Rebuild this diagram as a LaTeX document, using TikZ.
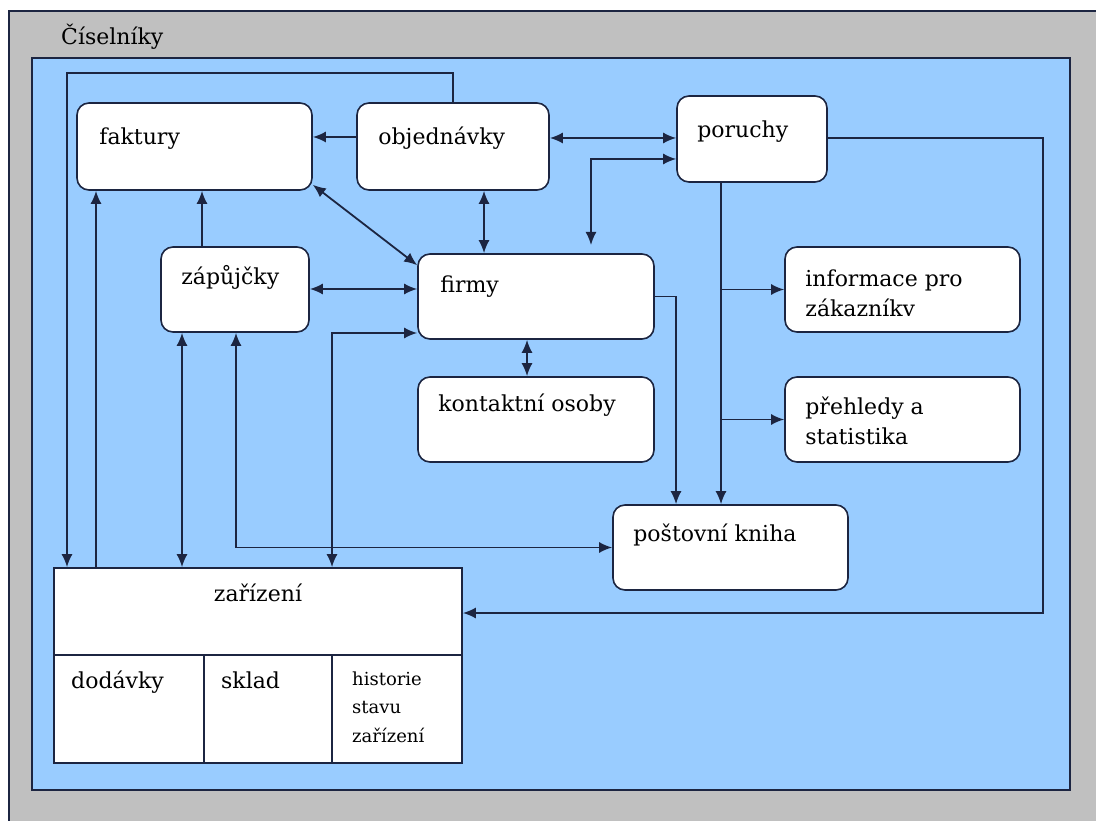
\documentclass[tikz,border=0pt]{standalone}
\usepackage{fontspec}
\setmainfont{DejaVu Serif}
\usetikzlibrary{arrows.meta,calc}
\definecolor{panel}{HTML}{99CCFF}
\definecolor{frame}{HTML}{C0C0C0}
\definecolor{ink}{HTML}{1C2541}
\begin{document}
\begin{tikzpicture}[x=1pt,y=-1pt,
  rbox/.style={draw=ink, line width=1.6pt, fill=white, rounded corners=12pt, inner sep=0pt},
  sbox/.style={draw=ink, line width=1.6pt, fill=white, inner sep=0pt},
  lbl/.style={anchor=base west, inner sep=0pt, font=\fontsize{22}{26}\selectfont},
  small/.style={anchor=base west, inner sep=0pt, font=\fontsize{18}{21}\selectfont},
  conn/.style={draw=ink, line width=1.8pt},
  tip/.style={conn, -{Latex[length=13pt,width=11pt]}},
  tips/.style={conn, {Latex[length=13pt,width=11pt]}-{Latex[length=13pt,width=11pt]}},
]
\clip (0,0) rectangle (1096,821);
\fill[white] (0,0) rectangle (1096,821);

% grey frame and blue panel
\fill[frame] (9,11) rectangle (1110,830);
\draw[ink, line width=1.3pt] (9,830) -- (9,11) -- (1110,11);
\draw[ink, line width=1.8pt, fill=panel] (32,58) rectangle (1070,790);
\node[lbl] (cis) at (61,45) {Číselníky};

% boxes
\node[rbox, minimum width=235pt, minimum height=87pt] (faktury)    at (194.5,146.5) {};
\node[rbox, minimum width=192pt, minimum height=87pt] (objednavky) at (453,146.5) {};
\node[rbox, minimum width=150pt, minimum height=86pt] (poruchy)    at (752,139) {};
\node[rbox, minimum width=148pt, minimum height=85pt] (zapujcky)   at (235,289.5) {};
\node[rbox, minimum width=236pt, minimum height=85pt] (firmy)      at (536,296.5) {};
\node[rbox, minimum width=235pt, minimum height=85pt] (informace)  at (902.5,289.5) {};
\node[rbox, minimum width=236pt, minimum height=85pt] (kontaktni)  at (536,419.5) {};
\node[rbox, minimum width=235pt, minimum height=85pt] (prehledy)   at (902.5,419.5) {};
\node[rbox, minimum width=235pt, minimum height=85pt] (postovni)   at (730.5,547.5) {};
\node[sbox, minimum width=408pt, minimum height=195pt] (zarizeni)  at (258,665.5) {};

% box texts
\node[lbl] (faktury-t)    at ($(faktury.north west)+(23,42)$) {faktury};
\node[lbl] (objednavky-t) at ($(objednavky.north west)+(22,42)$) {objednávky};
\node[lbl] (poruchy-t)    at ($(poruchy.north west)+(21,42)$) {poruchy};
\node[lbl] (zapujcky-t)   at ($(zapujcky.north west)+(21,38)$) {zápůjčky};
\node[lbl] (firmy-t)      at ($(firmy.north west)+(23,39)$) {firmy};
\node[lbl] (informace-t1) at ($(informace.north west)+(21,40)$) {informace pro};
\node[lbl] (informace-t2) at ($(informace.north west)+(21,70)$) {zákazníkv};
\node[lbl] (kontaktni-t)  at ($(kontaktni.north west)+(21,35)$) {kontaktní osoby};
\node[lbl] (prehledy-t1)  at ($(prehledy.north west)+(21,38)$) {přehledy a};
\node[lbl] (prehledy-t2)  at ($(prehledy.north west)+(21,68)$) {statistika};
\node[lbl] (postovni-t)   at ($(postovni.north west)+(21,37)$) {poštovní kniha};

% equipment box with its three parts
\coordinate (y655) at (0,655);
\coordinate (xs1) at (204,0);
\coordinate (xs2) at (332,0);
\draw[ink, line width=1.6pt] (zarizeni.west |- y655) -- (zarizeni.east |- y655);
\draw[ink, line width=1.6pt] (xs1 |- y655) -- (xs1 |- zarizeni.south);
\draw[ink, line width=1.6pt] (xs2 |- y655) -- (xs2 |- zarizeni.south);
\node[lbl, anchor=base] (zarizeni-t) at ($(zarizeni.north)+(0,34)$) {zařízení};
\node[lbl] (dodavky-t) at (71,688) {dodávky};
\node[lbl] (sklad-t)   at (221,688) {sklad};
\node[small] (hist-t1) at (352,685) {historie};
\node[small] (hist-t2) at (352,713) {stavu};
\node[small] (hist-t3) at (352,742) {zařízení};

% routing lanes
\coordinate (laneA) at (67,0);
\coordinate (laneB) at (96,0);
\coordinate (laneC) at (182,0);
\coordinate (laneD) at (202,0);
\coordinate (laneE) at (236,0);
\coordinate (laneF) at (332,0);
\coordinate (laneH) at (484,0);
\coordinate (laneI) at (527,0);
\coordinate (laneJ) at (591,0);
\coordinate (laneK) at (676,0);
\coordinate (laneL) at (721,0);
\coordinate (laneM) at (1043,0);
\coordinate (ytop) at (0,73);
\coordinate (y137) at (0,137);
\coordinate (y138) at (0,138);
\coordinate (y159) at (0,159);
\coordinate (y245) at (0,245);
\coordinate (y289) at (0,289);
\coordinate (y333) at (0,333);
\coordinate (y613) at (0,613);

% connectors
\draw[tip] (objednavky.north) -- (objednavky.north |- ytop) -| (zarizeni.north -| laneA);
\draw[tip] (objednavky.west |- y137) -- (faktury.east |- y137);
\draw[tip] (zarizeni.north -| laneB) -- (faktury.south -| laneB);
\draw[tip] (zapujcky.north -| laneD) -- (faktury.south -| laneD);
\draw[tips] ([yshift=6pt]faktury.south east) -- ([yshift=-12pt]firmy.north west);
\draw[tips] (objednavky.south -| laneH) -- (firmy.north -| laneH);
\draw[tips] (objednavky.east |- y138) -- (poruchy.west |- y138);
\draw[tips] (laneJ |- y245) |- (poruchy.west |- y159);
\draw[tip] (poruchy.east |- y138) -| (laneM |- y613) -- (zarizeni.east |- y613);
\draw[tip] (poruchy.south -| laneL) -- (postovni.north -| laneL);
\draw[tip] (laneL |- informace.west) -- (informace.west);
\draw[tip] (laneL |- prehledy.west) -- (prehledy.west);
\draw[tip] (firmy.east) -| (postovni.north -| laneK);
\draw[tips] (firmy.south -| laneI) -- (kontaktni.north -| laneI);
\draw[tips] (zapujcky.east |- y289) -- (firmy.west |- y289);
\draw[tips] (zapujcky.south -| laneC) -- (zarizeni.north -| laneC);
\draw[tips] (zapujcky.south -| laneE) |- (postovni.west);
\draw[tips] (zarizeni.north -| laneF) |- (firmy.west |- y333);
\end{tikzpicture}
\end{document}
